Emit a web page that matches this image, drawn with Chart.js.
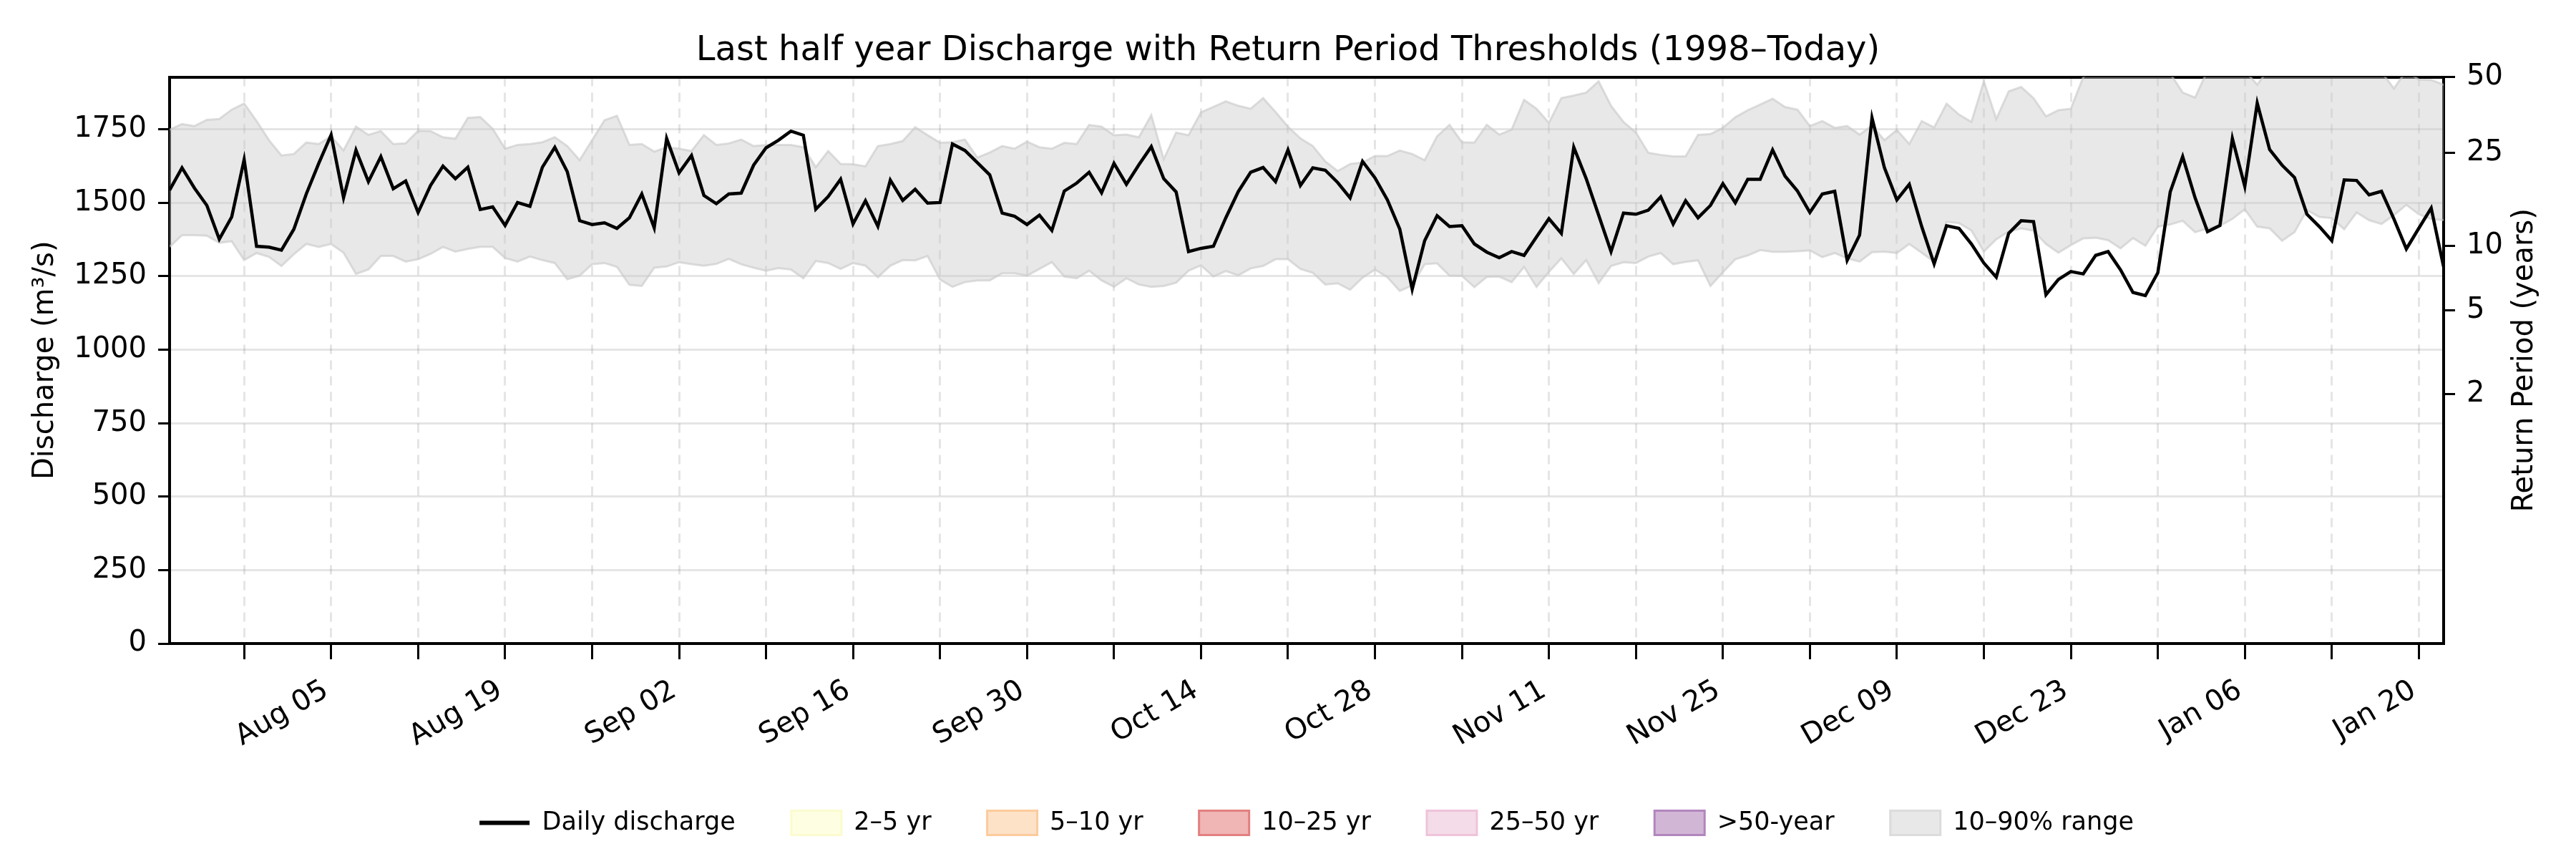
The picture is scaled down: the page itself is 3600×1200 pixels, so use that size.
<!DOCTYPE html>
<html lang="en">
<head>
    <meta charset="UTF-8">
    <title>Last half year Discharge with Return Period Thresholds</title>
    <script src="https://cdn.jsdelivr.net/npm/chart.js"></script>
    <style>
        html, body { margin: 0; padding: 0; background: #fff; }
        #wrap { width: 3600px; height: 1200px; }
    </style>
</head>
<body>
    <div id="wrap"><canvas id="chart" width="3600" height="1200"></canvas></div>

    <script>
        // Daily values, 23 Jul 2024 (day 0) to 22 Jan 2025 (day 183)
        const discharge = [
            1543, 1619, 1550, 1491, 1376, 1452, 1647, 1352, 1349, 1339,
            1410, 1530, 1634, 1731, 1517, 1679, 1572, 1657, 1548, 1574,
            1467, 1559, 1625, 1582, 1621, 1477, 1486, 1423, 1501, 1488,
            1621, 1689, 1606, 1439, 1426, 1432, 1413, 1449, 1530, 1415,
            1719, 1602, 1661, 1525, 1497, 1530, 1533, 1628, 1687, 1713,
            1744, 1730, 1478, 1521, 1580, 1428, 1507, 1420, 1577, 1508,
            1546, 1499, 1501, 1700, 1678, 1637, 1595, 1465, 1454, 1426,
            1458, 1406, 1540, 1567, 1604, 1534, 1634, 1563, 1629, 1691,
            1582, 1537, 1334, 1345, 1352, 1449, 1538, 1604, 1620, 1572,
            1680, 1559, 1619, 1611, 1569, 1517, 1641, 1585, 1510, 1410,
            1206, 1371, 1456, 1419, 1422, 1360, 1332, 1313, 1334, 1321,
            1384, 1446, 1396, 1689, 1582, 1458, 1334, 1465, 1461, 1475,
            1520, 1428, 1507, 1449, 1491, 1565, 1500, 1580, 1580, 1680,
            1591, 1540, 1467, 1530, 1539, 1304, 1390, 1789, 1619, 1510,
            1563, 1419, 1292, 1422, 1413, 1360, 1295, 1247, 1396, 1439,
            1436, 1187, 1239, 1266, 1258, 1321, 1334, 1272, 1195, 1184,
            1262, 1537, 1657, 1517, 1402, 1423, 1719, 1556, 1839, 1681,
            1628, 1586, 1461, 1419, 1371, 1578, 1576, 1527, 1539, 1445,
            1343, 1413, 1482, 1282
        ];
        const p90 = [
            1749, 1768, 1761, 1782, 1785, 1817, 1838, 1778, 1713, 1661,
            1666, 1705, 1700, 1726, 1678, 1759, 1731, 1744, 1700, 1702,
            1745, 1744, 1723, 1718, 1789, 1792, 1752, 1684, 1697, 1700,
            1706, 1723, 1693, 1645, 1713, 1781, 1796, 1697, 1700, 1674,
            1689, 1684, 1676, 1730, 1697, 1702, 1715, 1693, 1696, 1697,
            1697, 1689, 1621, 1676, 1632, 1631, 1624, 1693, 1700, 1710,
            1757, 1730, 1704, 1706, 1715, 1654, 1671, 1693, 1684, 1708,
            1689, 1684, 1704, 1700, 1765, 1759, 1730, 1732, 1723, 1798,
            1648, 1739, 1730, 1808, 1826, 1845, 1830, 1820, 1856, 1809,
            1759, 1719, 1693, 1641, 1608, 1632, 1637, 1659, 1659, 1678,
            1666, 1645, 1726, 1765, 1706, 1705, 1765, 1732, 1749, 1850,
            1820, 1772, 1856, 1865, 1875, 1913, 1830, 1775, 1739, 1670,
            1663, 1658, 1658, 1731, 1734, 1755, 1791, 1815, 1834, 1854,
            1826, 1817, 1761, 1778, 1755, 1761, 1732, 1762, 1713, 1748,
            1700, 1778, 1756, 1837, 1800, 1775, 1913, 1785, 1879, 1894,
            1856, 1794, 1815, 1820, 1928, 1960, 1965, 1955, 1960, 1970,
            1955, 1940, 1875, 1858, 1950, 1970, 1960, 1950, 1902, 1960,
            1970, 1960, 1950, 1965, 1960, 1950, 1970, 1960, 1945, 1889,
            1950, 1919, 1918, 1902
        ];
        const p10 = [
            1350, 1390, 1390, 1388, 1364, 1369, 1305, 1329, 1316, 1285,
            1325, 1360, 1350, 1360, 1330, 1258, 1273, 1319, 1319, 1300,
            1308, 1326, 1350, 1334, 1343, 1350, 1350, 1312, 1300, 1317,
            1305, 1295, 1240, 1252, 1291, 1295, 1282, 1221, 1217, 1279,
            1283, 1298, 1291, 1286, 1292, 1309, 1291, 1279, 1269, 1278,
            1273, 1243, 1302, 1295, 1275, 1295, 1286, 1247, 1286, 1305,
            1304, 1319, 1239, 1214, 1230, 1236, 1236, 1260, 1260, 1252,
            1275, 1298, 1249, 1243, 1269, 1236, 1214, 1243, 1222, 1214,
            1217, 1228, 1269, 1287, 1249, 1268, 1253, 1277, 1285, 1308,
            1308, 1275, 1262, 1222, 1226, 1204, 1245, 1273, 1247, 1200,
            1219, 1291, 1294, 1252, 1251, 1213, 1248, 1249, 1230, 1282,
            1214, 1265, 1311, 1258, 1305, 1227, 1285, 1298, 1295, 1317,
            1329, 1291, 1299, 1304, 1217, 1264, 1308, 1321, 1339, 1333,
            1333, 1335, 1338, 1315, 1329, 1311, 1300, 1332, 1334, 1329,
            1360, 1330, 1299, 1435, 1431, 1406, 1334, 1376, 1402, 1413,
            1405, 1360, 1330, 1356, 1379, 1381, 1373, 1345, 1380, 1354,
            1419, 1426, 1439, 1400, 1413, 1422, 1445, 1478, 1419, 1413,
            1371, 1400, 1475, 1452, 1448, 1410, 1467, 1441, 1428, 1458,
            1493, 1461, 1445, 1441
        ];

        // Return period thresholds (years -> discharge)
        const rpYears = [2, 5, 10, 25, 50];
        const rpDischarge = [849, 1133, 1353, 1669, 1928];

        const yTicks = [0, 250, 500, 750, 1000, 1250, 1500, 1750];
        // weekly ticks start on Monday 29 Jul (day 6); every second one is labelled
        const firstWeekTick = 6;
        const tickLabels = ['Aug 05', 'Aug 19', 'Sep 02', 'Sep 16', 'Sep 30', 'Oct 14', 'Oct 28',
                            'Nov 11', 'Nov 25', 'Dec 09', 'Dec 23', 'Jan 06', 'Jan 20'];

        const days = discharge.map((_, i) => i);
        const lastDay = days[days.length - 1];

        Chart.defaults.font.family = "'DejaVu Sans', sans-serif";
        Chart.defaults.color = '#000';

        const rightTitle = {
            id: 'rightTitle',
            afterDraw(chart) {
                const { ctx, chartArea } = chart;
                const s = chart.scales.y2;
                ctx.save();
                ctx.font = "40px 'DejaVu Sans'";
                ctx.fillStyle = '#000';
                ctx.textAlign = 'center';
                ctx.textBaseline = 'middle';
                ctx.translate(s.right - 71, (chartArea.top + chartArea.bottom) / 2);
                ctx.rotate(-Math.PI / 2);
                ctx.fillText('Return Period (years)', 0, 0);
                ctx.restore();
            }
        };

        const band = (label, fill, stroke) => ({
            label, data: [], backgroundColor: fill, borderColor: stroke,
            legendStyle: 'rect', pointRadius: 0
        });

        new Chart(document.getElementById('chart'), {
            type: 'line',
            data: {
                labels: days,
                datasets: [
                    {
                        label: 'Daily discharge', data: discharge,
                        borderColor: '#000', backgroundColor: '#000', borderWidth: 4.5,
                        pointRadius: 0, tension: 0, fill: false, order: 0,
                        legendStyle: 'line', legendWidth: 6
                    },
                    band('2\u20135 yr', '#fefee2', '#fbfbcf'),
                    band('5\u201310 yr', '#fde2c8', '#fccb9c'),
                    band('10\u201325 yr', '#f0b5b5', '#e37f7f'),
                    band('25\u201350 yr', '#f4dce8', '#efc3da'),
                    band('>50-year', '#d2b6d6', '#b286bd'),
                    {
                        label: '10\u201390% range', data: p90,
                        borderColor: 'rgba(200,200,200,0.6)', borderWidth: 3,
                        backgroundColor: 'rgba(200,200,200,0.42)',
                        pointRadius: 0, tension: 0, fill: '+1', order: 1,
                        legendStyle: 'rect', legendFill: '#e8e8e8', legendStroke: '#dcdcdc'
                    },
                    {
                        label: '', data: p10,
                        borderColor: 'rgba(200,200,200,0.6)', borderWidth: 3,
                        backgroundColor: 'rgba(200,200,200,0.42)',
                        pointRadius: 0, tension: 0, fill: false, order: 1
                    }
                ]
            },
            plugins: [rightTitle],
            options: {
                responsive: false,
                devicePixelRatio: 1,
                animation: false,
                layout: { padding: { left: 0, right: 0, top: 0, bottom: 23 } },
                plugins: {
                    tooltip: { enabled: false },
                    title: {
                        display: true,
                        text: 'Last half year Discharge with Return Period Thresholds (1998\u2013Today)',
                        color: '#000',
                        font: { size: 48, weight: 'normal' },
                        padding: { top: 43, bottom: 7 }
                    },
                    legend: {
                        position: 'bottom',
                        fullSize: false,
                        labels: {
                            font: { size: 35 },
                            color: '#000',
                            usePointStyle: true,
                            pointStyleWidth: 70,
                            boxHeight: 34,
                            padding: 78,
                            generateLabels(chart) {
                                return chart.data.datasets.map((ds, i) => ({
                                    text: ds.label,
                                    datasetIndex: i,
                                    fillStyle: ds.legendFill || ds.backgroundColor,
                                    strokeStyle: ds.legendStroke || ds.borderColor,
                                    lineWidth: ds.legendWidth || 3,
                                    pointStyle: ds.legendStyle,
                                    fontColor: '#000',
                                    hidden: false
                                })).filter(item => item.text);
                            }
                        }
                    }
                },
                scales: {
                    x: {
                        type: 'linear',
                        position: 'bottom',
                        min: 0,
                        max: lastDay,
                        afterBuildTicks(s) {
                            const t = [];
                            for (let d = firstWeekTick; d <= lastDay; d += 7) t.push({ value: d });
                            s.ticks = t;
                        },
                        afterFit(s) { s.height = 155; },
                        ticks: {
                            autoSkip: false,
                            minRotation: 30,
                            maxRotation: 30,
                            padding: 20,
                            labelOffset: -7,
                            font: { size: 40 },
                            color: '#000',
                            callback(v) {
                                const k = (v - firstWeekTick - 7) / 14;
                                return Number.isInteger(k) ? tickLabels[k] : '';
                            }
                        },
                        grid: {
                            color: 'rgba(0,0,0,0.1)',
                            lineWidth: 3,
                            tickColor: '#000',
                            tickLength: 22,
                            tickWidth: 3,
                            tickBorderDash: []
                        },
                        border: { display: true, color: '#000', width: 4, dash: [13, 9] }
                    },
                    x2: {
                        type: 'linear',
                        position: 'top',
                        min: 0,
                        max: lastDay,
                        afterFit(s) { s.height = 0; },
                        ticks: { display: false },
                        grid: { display: false, drawTicks: false },
                        border: { display: true, color: '#000', width: 4 }
                    },
                    y: {
                        type: 'linear',
                        position: 'left',
                        min: 0,
                        max: rpDischarge[rpDischarge.length - 1],
                        afterBuildTicks(s) { s.ticks = yTicks.map(v => ({ value: v })); },
                        afterFit(s) { s.width = 237; },
                        ticks: {
                            font: { size: 40 }, color: '#000', padding: 16,
                            callback: v => String(v)
                        },
                        grid: {
                            color: 'rgba(0,0,0,0.1)',
                            lineWidth: 3,
                            tickColor: '#000',
                            tickLength: 16,
                            tickWidth: 3
                        },
                        border: { display: true, color: '#000', width: 4 },
                        title: {
                            display: true,
                            text: 'Discharge (m\u00b3/s)',
                            font: { size: 40 },
                            color: '#000',
                            padding: { top: 40, bottom: 0 }
                        }
                    },
                    y2: {
                        type: 'linear',
                        position: 'right',
                        min: 0,
                        max: rpDischarge[rpDischarge.length - 1],
                        afterBuildTicks(s) { s.ticks = rpDischarge.map(v => ({ value: v })); },
                        afterFit(s) { s.width = 185; },
                        ticks: {
                            font: { size: 40 },
                            color: '#000',
                            padding: 16,
                            callback(v) {
                                const k = rpDischarge.indexOf(v);
                                return k >= 0 ? String(rpYears[k]) : '';
                            }
                        },
                        grid: {
                            drawOnChartArea: false,
                            tickColor: '#000',
                            tickLength: 16,
                            tickWidth: 3
                        },
                        border: { display: true, color: '#000', width: 4 }
                    }
                }
            }
        });
    </script>
</body>
</html>
